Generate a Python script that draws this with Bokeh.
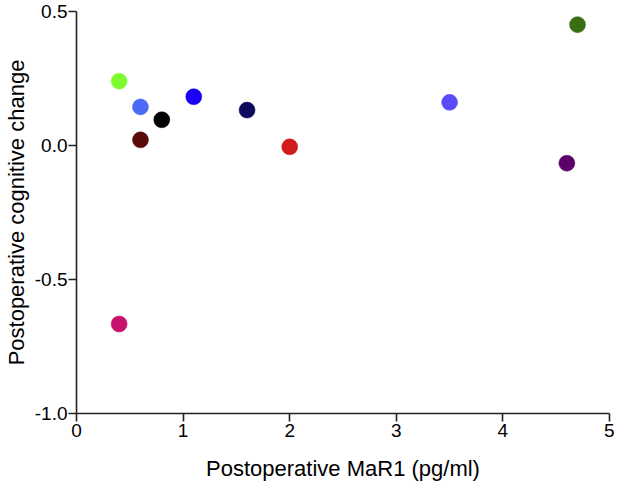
from bokeh.plotting import figure
from bokeh.models import ColumnDataSource, Range1d, FixedTicker
from bokeh.embed import file_html
from bokeh.resources import INLINE

# Data
mar1 = [0.4, 0.6, 0.6, 0.8, 1.1, 1.6, 2.0, 3.5, 4.6, 4.7, 0.4]
cog_change = [0.240, 0.144, 0.021, 0.096, 0.182, 0.132, -0.005, 0.161, -0.066, 0.451, -0.666]
colors = ["#7CFC2E", "#4B6BF5", "#5B0A0A", "#000000", "#1A00F5", "#0D0A5E",
          "#CF1B1B", "#5A4BFA", "#5C006C", "#3A6E12", "#C8106C"]
x_ticks = [0, 1, 2, 3, 4, 5]
y_ticks = [-1.0, -0.5, 0.0, 0.5]
y_tick_labels = {-1.0: "-1.0", -0.5: "-0.5", 0.0: "0.0", 0.5: "0.5"}

src = ColumnDataSource(dict(x=mar1, y=cog_change, c=colors))

p = figure(width=614, height=483, output_backend="svg", toolbar_location=None,
           x_range=Range1d(0, 5), y_range=Range1d(-1.0, 0.5),
           min_border_left=60, min_border_right=5, min_border_top=11, min_border_bottom=40)

p.scatter("x", "y", source=src, size=16, fill_color="c", line_color="c", line_width=0.5)

p.grid.visible = False
p.outline_line_color = None
p.background_fill_color = "white"
p.border_fill_color = "white"

for ax in (p.xaxis[0], p.yaxis[0]):
    ax.axis_line_color = "#222222"
    ax.axis_line_width = 1.6
    ax.major_tick_line_color = "#222222"
    ax.major_tick_line_width = 1.6
    ax.major_tick_out = 8
    ax.major_tick_in = 0
    ax.minor_tick_line_color = None
    ax.major_label_text_font = "Liberation Sans"
    ax.major_label_text_font_size = "19px"
    ax.major_label_text_color = "black"
    ax.axis_label_text_font = "Liberation Sans"
    ax.axis_label_text_font_size = "22px"
    ax.axis_label_text_font_style = "normal"
    ax.axis_label_text_color = "black"

p.xaxis.ticker = FixedTicker(ticks=x_ticks)
p.yaxis.ticker = FixedTicker(ticks=y_ticks)
p.yaxis.major_label_overrides = y_tick_labels
p.xaxis.major_label_standoff = 2
p.yaxis.major_label_standoff = 1
p.xaxis.axis_label = "Postoperative MaR1 (pg/ml)"
p.yaxis.axis_label = "Postoperative cognitive change"
p.xaxis.axis_label_standoff = 16
p.yaxis.axis_label_standoff = 3

open("out.html", "w").write(file_html(p, INLINE))
